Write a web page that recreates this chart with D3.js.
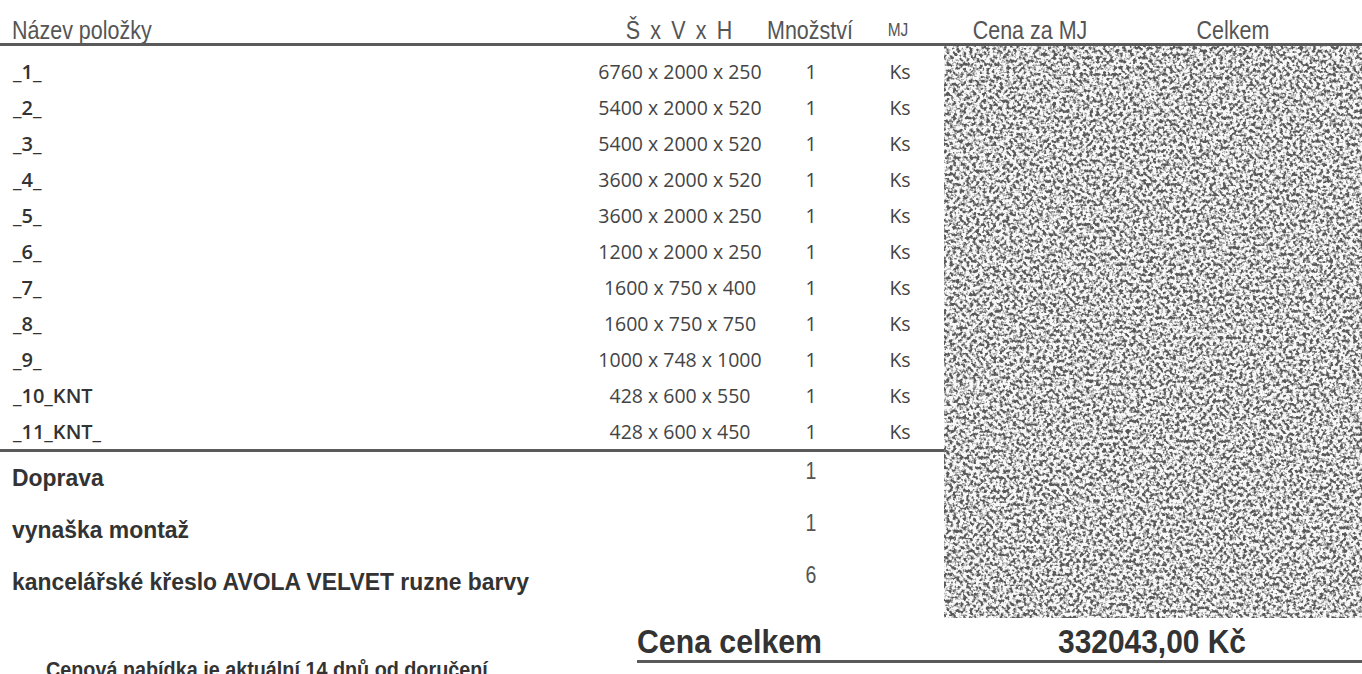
<!DOCTYPE html>
<meta charset="utf-8">
<script src="https://d3js.org/d3.v7.min.js"></script>
<style>
  body { margin: 0; background: #fff; }
  svg { display: block; }
</style>
<div id="my_dataviz"></div>
<script>
    // table contents
    var headers = ["Název položky", "Š x V x H", "Množství", "MJ", "Cena za MJ", "Celkem"];
    var headerX = [12, 679, 810, 898, 1030, 1233];
    var items = ["_1_", "_2_", "_3_", "_4_", "_5_", "_6_", "_7_", "_8_", "_9_", "_10_KNT", "_11_KNT_"];
    var dims = ["6760 x 2000 x 250", "5400 x 2000 x 520", "5400 x 2000 x 520", "3600 x 2000 x 520",
                "3600 x 2000 x 250", "1200 x 2000 x 250", "1600 x 750 x 400", "1600 x 750 x 750",
                "1000 x 748 x 1000", "428 x 600 x 550", "428 x 600 x 450"];
    var qty = [1, 1, 1, 1, 1, 1, 1, 1, 1, 1, 1];
    var units = ["Ks", "Ks", "Ks", "Ks", "Ks", "Ks", "Ks", "Ks", "Ks", "Ks", "Ks"];
    var extraItems = ["Doprava", "vynaška montaž", "kancelářské křeslo AVOLA VELVET ruzne barvy"];
    var extraQty = [1, 1, 6];
    var totalLabel = "Cena celkem";
    var totalValue = "332043,00 Kč";
    var note = "Cenová nabídka je aktuální 14 dnů od doručení";

    var width = 1362, height = 674;
    var arial = "'Liberation Sans', Arial, sans-serif";
    var calib = "'Open Sans', 'Noto Sans', sans-serif";

    var svg = d3.select("#my_dataviz")
        .append("svg")
            .attr("width", width)
            .attr("height", height);

    // speckle texture for the blacked-out price columns
    var defs = svg.append("defs");
    var f = defs.append("filter").attr("id", "noise")
        .attr("x", 0).attr("y", 0).attr("width", "100%").attr("height", "100%");
    f.append("feTurbulence").attr("type", "fractalNoise")
        .attr("baseFrequency", 0.3).attr("numOctaves", 2).attr("seed", 7);
    f.append("feColorMatrix").attr("type", "matrix")
        .attr("values", "0 0 0 0 0.1  0 0 0 0 0.1  0 0 0 0 0.1  -4.6 0 0 0 2.6");

    // narrow-looking text: Arial squeezed horizontally
    function squeeze(sel, x, y, sx) {
        return sel.attr("transform", "translate(" + x + "," + y + ") scale(" + sx + ",1)");
    }

    var y = d3.scalePoint().domain(d3.range(items.length)).range([72, 432]);
    var y2 = d3.scalePoint().domain(d3.range(extraItems.length)).range([478, 582]);

    // header
    svg.append("g").selectAll("text")
        .data(headers)
        .enter().append("text")
            .attr("transform", function(d, i) { return "translate(" + headerX[i] + ",30) scale(0.86,1)"; })
            .attr("dy", "0.35em")
            .attr("text-anchor", function(d, i) { return i == 0 ? "start" : "middle"; })
            .style("font-family", arial)
            .style("font-size", function(d, i) { return i == 3 ? "18px" : "25px"; })
            .style("word-spacing", function(d, i) { return i == 1 ? "5px" : "0px"; })
            .attr("fill", "#555")
            .text(function(d) { return d; });

    svg.append("line")
        .attr("x1", 0).attr("x2", width)
        .attr("y1", 44.5).attr("y2", 44.5)
        .attr("stroke", "#5a5a5a").attr("stroke-width", 3);

    // redacted block
    svg.append("rect")
        .attr("x", 944).attr("y", 46).attr("width", width - 944).attr("height", 572)
        .attr("fill", "#f8f8f8");
    svg.append("rect")
        .attr("x", 944).attr("y", 46).attr("width", width - 944).attr("height", 572)
        .attr("fill", "#000")
        .attr("filter", "url(#noise)");

    // item rows
    var rows = svg.append("g").selectAll("g")
        .data(items)
        .enter().append("g")
            .attr("transform", function(d, i) { return "translate(0," + y(i) + ")"; });

    rows.append("text")
        .attr("x", 13).attr("dy", "0.35em")
        .style("font-family", calib).style("font-size", "20px").style("font-weight", 600)
        .attr("fill", "#333")
        .text(function(d) { return d; });

    rows.append("text")
        .attr("x", 680).attr("dy", "0.35em").attr("text-anchor", "middle")
        .style("font-family", calib).style("font-size", "19.5px")
        .attr("fill", "#444")
        .text(function(d, i) { return dims[i]; });

    rows.append("text")
        .attr("x", 811).attr("dy", "0.35em").attr("text-anchor", "middle")
        .style("font-family", calib).style("font-size", "19.5px")
        .attr("fill", "#444")
        .text(function(d, i) { return qty[i]; });

    rows.append("text")
        .attr("x", 900).attr("dy", "0.35em").attr("text-anchor", "middle")
        .style("font-family", calib).style("font-size", "19.5px")
        .attr("fill", "#444")
        .text(function(d, i) { return units[i]; });

    svg.append("line")
        .attr("x1", 0).attr("x2", 944)
        .attr("y1", 450.5).attr("y2", 450.5)
        .attr("stroke", "#5a5a5a").attr("stroke-width", 3);

    // extra rows
    var extra = svg.append("g").selectAll("g")
        .data(extraItems)
        .enter().append("g")
            .attr("transform", function(d, i) { return "translate(0," + y2(i) + ")"; });

    extra.append("text")
        .call(squeeze, 12, 0, 0.955)
        .attr("dy", "0.35em")
        .style("font-family", arial).style("font-size", "24px").style("font-weight", "bold")
        .attr("fill", "#333")
        .text(function(d) { return d; });

    extra.append("text")
        .call(squeeze, 811, -7, 0.85)
        .attr("dy", "0.35em").attr("text-anchor", "middle")
        .style("font-family", arial).style("font-size", "23px")
        .attr("fill", "#555")
        .text(function(d, i) { return extraQty[i]; });

    // total
    svg.append("text")
        .call(squeeze, 637, 641, 0.89)
        .attr("dy", "0.35em")
        .style("font-family", arial).style("font-size", "34px").style("font-weight", "bold")
        .attr("fill", "#333")
        .text(totalLabel);

    svg.append("text")
        .call(squeeze, 1152, 641, 0.88)
        .attr("dy", "0.35em").attr("text-anchor", "middle")
        .style("font-family", arial).style("font-size", "34px").style("font-weight", "bold")
        .attr("fill", "#333")
        .text(totalValue);

    svg.append("line")
        .attr("x1", 637).attr("x2", width)
        .attr("y1", 661.5).attr("y2", 661.5)
        .attr("stroke", "#5a5a5a").attr("stroke-width", 3);

    svg.append("text")
        .call(squeeze, 46, 669, 0.9)
        .attr("dy", "0.35em")
        .style("font-family", arial).style("font-size", "22px").style("font-weight", "bold")
        .attr("fill", "#333")
        .text(note);
</script>
